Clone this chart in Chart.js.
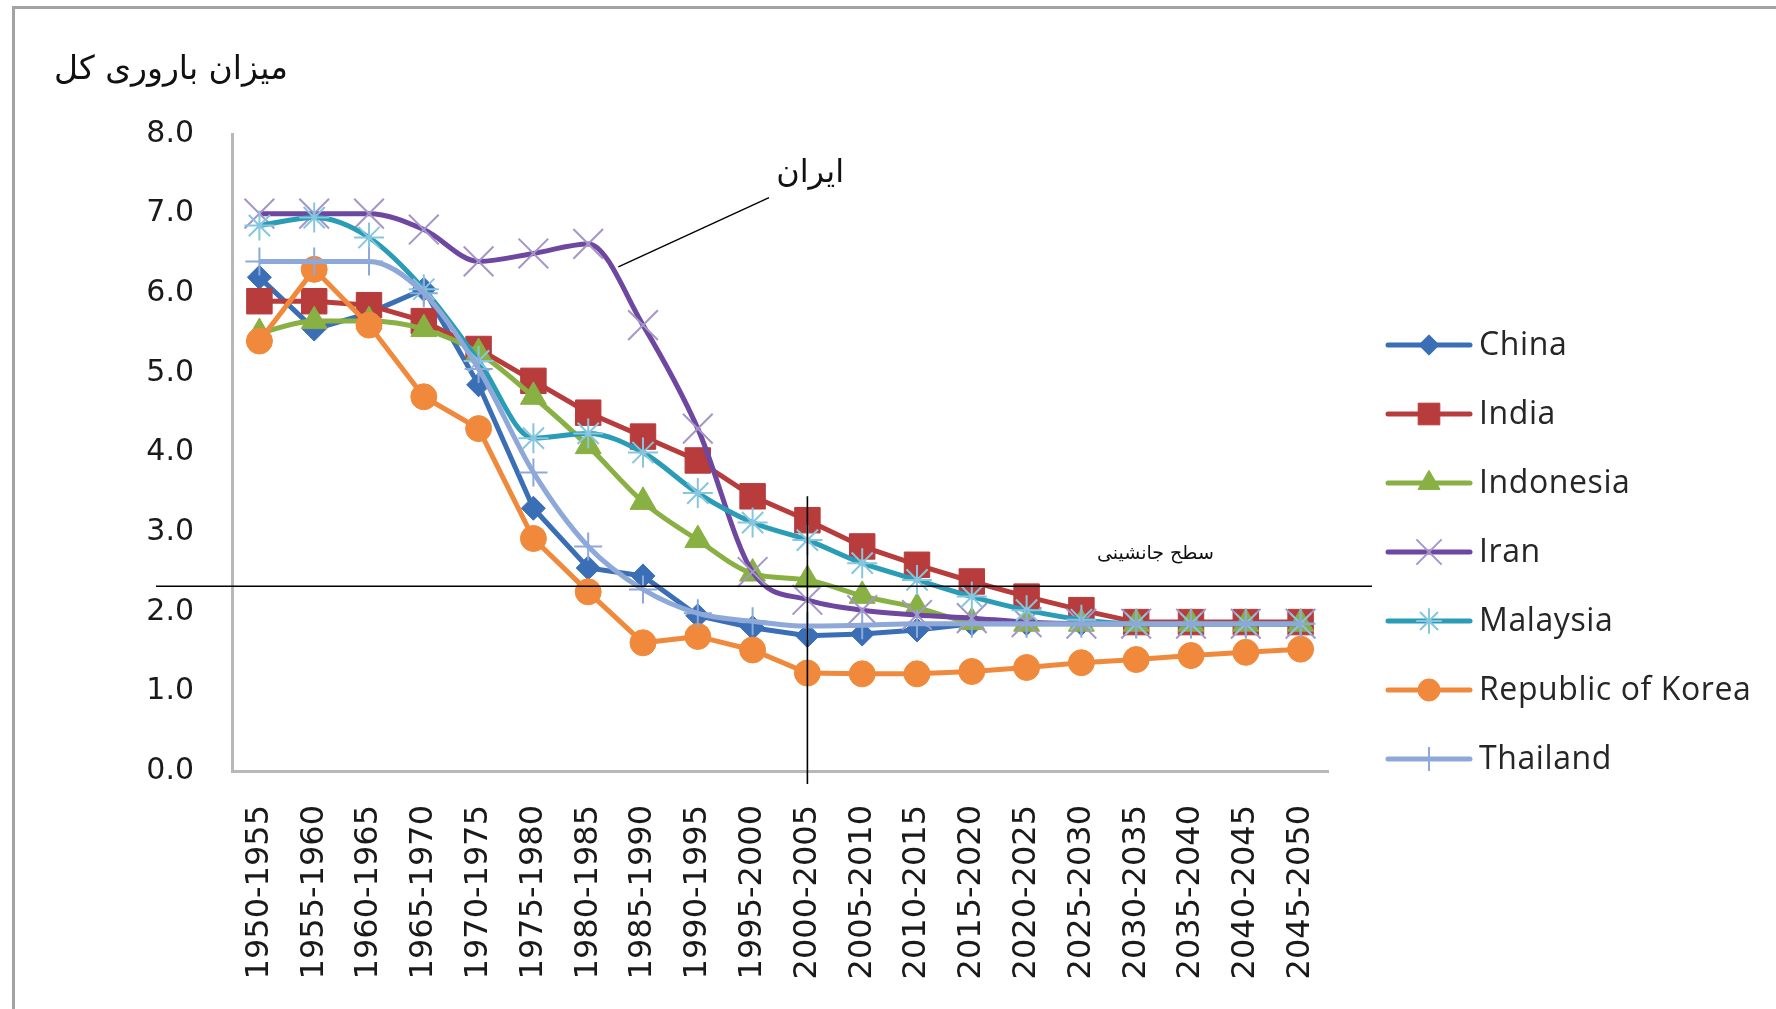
<!DOCTYPE html>
<html>
<head>
<meta charset="utf-8">
<title>میزان باروری کل</title>
<script src="https://cdn.jsdelivr.net/npm/chart.js@4.4.1/dist/chart.umd.min.js"></script>
<style>
    html, body { margin: 0; padding: 0; background: #fff; }
    #frame { position: absolute; left: 12px; top: 6px; width: 1800px; height: 1100px;
             border-left: 3px solid #a3a3a3; border-top: 3px solid #a3a3a3; }
    #wrap { position: absolute; left: 0; top: 0; width: 1776px; height: 1009px; }
</style>
</head>
<body>
<div id="frame"></div>
<div id="wrap"><canvas id="tfrChart"></canvas></div>

<script>
// five-year periods on the x axis
const periods = ['1950-1955', '1955-1960', '1960-1965', '1965-1970', '1970-1975',
    '1975-1980', '1980-1985', '1985-1990', '1990-1995', '1995-2000',
    '2000-2005', '2005-2010', '2010-2015', '2015-2020', '2020-2025',
    '2025-2030', '2030-2035', '2035-2040', '2040-2045', '2045-2050'];

// total fertility rate
const china     = [6.2, 5.55, 5.75, 6.05, 4.85, 3.3, 2.55, 2.45, 1.95, 1.8, 1.7, 1.72, 1.77, 1.85, 1.85, 1.85, 1.85, 1.85, 1.85, 1.85];
const india     = [5.9, 5.9, 5.85, 5.65, 5.3, 4.9, 4.5, 4.2, 3.9, 3.45, 3.15, 2.82, 2.59, 2.38, 2.19, 2.02, 1.87, 1.87, 1.87, 1.87];
const indonesia = [5.5, 5.65, 5.65, 5.55, 5.25, 4.7, 4.08, 3.38, 2.9, 2.48, 2.4, 2.2, 2.05, 1.87, 1.85, 1.85, 1.85, 1.85, 1.85, 1.85];
const iran      = [7.0, 7.0, 7.0, 6.8, 6.4, 6.5, 6.62, 5.6, 4.3, 2.5, 2.15, 2.02, 1.96, 1.92, 1.87, 1.85, 1.85, 1.85, 1.85, 1.85];
const malaysia  = [6.85, 6.95, 6.7, 6.05, 5.15, 4.18, 4.24, 4.0, 3.49, 3.12, 2.9, 2.61, 2.4, 2.19, 2.02, 1.9, 1.85, 1.85, 1.85, 1.85];
const korea     = [5.4, 6.3, 5.6, 4.7, 4.3, 2.92, 2.25, 1.61, 1.69, 1.52, 1.23, 1.22, 1.22, 1.25, 1.3, 1.36, 1.4, 1.45, 1.49, 1.53];
const thailand  = [6.4, 6.4, 6.4, 6.0, 5.05, 3.75, 2.82, 2.28, 1.98, 1.88, 1.82, 1.83, 1.85, 1.85, 1.85, 1.85, 1.85, 1.85, 1.85, 1.85];

const seriesNames = ['China', 'India', 'Indonesia', 'Iran', 'Malaysia', 'Republic of Korea', 'Thailand'];
const yTicks = [0, 1, 2, 3, 4, 5, 6, 7, 8];

// annotation anchors (category index / value)
const replacementLevel = 2.32;
const markPeriod = '2000-2005';
const markTop = 3.45;

const AR_FONT = '"DejaVu Sans", sans-serif';

const styles = [
    { color: '#3a6fb6', point: 'rectRot',  r: 12, mColor: '#3a6fb6', bw: 1, smooth: false },
    { color: '#b83c3c', point: 'rect',     r: 18, mColor: '#b83c3c', bw: 1, smooth: false },
    { color: '#88b042', point: 'triangle', r: 15, mColor: '#88b042', bw: 1, smooth: true },
    { color: '#6e47a0', point: 'crossRot', r: 21, mColor: '#a596c8', bw: 2, smooth: true },
    { color: '#2a9cb5', point: 'star',     r: 15, mColor: '#86c6de', bw: 2, smooth: true },
    { color: '#f0893b', point: 'circle',   r: 13, mColor: '#f0893b', bw: 1, smooth: false },
    { color: '#8da8d9', point: 'cross',    r: 14, mColor: '#8da8d9', bw: 2, smooth: true }
];
const seriesData = [china, india, indonesia, iran, malaysia, korea, thailand];

const datasets = seriesData.map((d, i) => ({
    label: seriesNames[i],
    data: d,
    borderColor: styles[i].color,
    backgroundColor: styles[i].mColor,
    borderWidth: 5,
    pointStyle: styles[i].point,
    pointRadius: styles[i].r,
    pointBackgroundColor: styles[i].mColor,
    pointBorderColor: styles[i].mColor,
    pointBorderWidth: styles[i].bw,
    cubicInterpolationMode: styles[i].smooth ? 'monotone' : 'default',
    tension: 0,
    order: seriesData.length - i   // later series on top, like the original
}));

// Legend, Persian labels and the reference lines
const decorPlugin = {
    id: 'decor',
    afterDatasetsDraw(chart) {
        const ctx = chart.ctx;
        const xs = chart.scales.x, ys = chart.scales.y, area = chart.chartArea;
        ctx.save();

        // replacement-level line and the 2000-2005 marker line
        ctx.strokeStyle = '#000';
        ctx.lineWidth = 1.6;
        const yRep = ys.getPixelForValue(replacementLevel);
        ctx.beginPath();
        ctx.moveTo(area.left - 76, yRep);
        ctx.lineTo(area.right + 44, yRep);
        ctx.stroke();
        const xMark = xs.getPixelForValue(periods.indexOf(markPeriod));
        ctx.beginPath();
        ctx.moveTo(xMark, ys.getPixelForValue(markTop));
        ctx.lineTo(xMark, area.bottom + 13);
        ctx.stroke();

        // Iran callout
        ctx.lineWidth = 1.4;
        ctx.beginPath();
        ctx.moveTo(xs.getPixelForValue(9.3), ys.getPixelForValue(7.2));
        ctx.lineTo(xs.getPixelForValue(6.55), ys.getPixelForValue(6.33));
        ctx.stroke();
        ctx.fillStyle = '#111';
        ctx.textAlign = 'center';
        ctx.textBaseline = 'middle';
        ctx.font = '32px ' + AR_FONT;
        ctx.fillText('ایران', xs.getPixelForValue(10.05), ys.getPixelForValue(7.5));
        ctx.font = '19px ' + AR_FONT;
        ctx.fillText('سطح جانشینی', xs.getPixelForValue(16.35), ys.getPixelForValue(2.73));

        // axis title
        ctx.font = '33px ' + AR_FONT;
        ctx.textAlign = 'left';
        ctx.fillText('میزان باروری کل', 54, 70);

        // legend
        const lx = area.right + 60, ly = 345, step = 69;
        chart.data.datasets.forEach((ds, i) => {
            const y = ly + i * step;
            ctx.strokeStyle = ds.borderColor;
            ctx.lineWidth = 5;
            ctx.lineCap = 'round';
            ctx.beginPath();
            ctx.moveTo(lx, y);
            ctx.lineTo(lx + 82, y);
            ctx.stroke();
            ctx.lineCap = 'butt';
            ctx.fillStyle = ds.pointBackgroundColor;
            ctx.strokeStyle = ds.pointBorderColor;
            ctx.lineWidth = ds.pointBorderWidth;
            Chart.helpers.drawPoint(ctx, {
                pointStyle: ds.pointStyle,
                radius: ds.pointRadius * 0.85,
                rotation: 0,
                borderWidth: ds.pointBorderWidth
            }, lx + 41, y);
            ctx.fillStyle = '#262626';
            ctx.font = '32px "Open Sans", sans-serif';
            ctx.letterSpacing = '0.6px';
            ctx.textAlign = 'left';
            ctx.textBaseline = 'middle';
            ctx.fillText(ds.label, lx + 91, y + 1);
            ctx.letterSpacing = '0px';
        });
        ctx.restore();
    }
};

const ctx = document.getElementById('tfrChart').getContext('2d');
new Chart(ctx, {
    type: 'line',
    data: { labels: periods, datasets: datasets },
    options: {
        responsive: true,
        maintainAspectRatio: false,
        animation: false,
        layout: { padding: { left: 0, top: 134, right: 448, bottom: 0 } },
        plugins: {
            legend: { display: false },
            tooltip: { enabled: false }
        },
        scales: {
            x: {
                offset: true,
                grid: { display: false, drawTicks: false },
                border: { display: true, color: '#b8b8b8', width: 3 },
                ticks: {
                    color: '#1a1a1a',
                    font: { family: '"DejaVu Sans"', size: 32 },
                    minRotation: 90,
                    maxRotation: 90,
                    autoSkip: false,
                    padding: 34
                },
                afterFit(scale) { scale.height = 1009 - 771; }
            },
            y: {
                min: yTicks[0],
                max: yTicks[yTicks.length - 1],
                afterBuildTicks(scale) { scale.ticks = yTicks.map(v => ({ value: v })); },
                grid: { display: false, drawTicks: false },
                border: { display: true, color: '#b8b8b8', width: 3 },
                ticks: {
                    color: '#1a1a1a',
                    font: { family: '"DejaVu Sans"', size: 30 },
                    padding: 38,
                    callback: v => Number(v).toFixed(1)
                },
                afterFit(scale) { scale.width = 232; }
            }
        }
    },
    plugins: [decorPlugin]
});
</script>
</body>
</html>
